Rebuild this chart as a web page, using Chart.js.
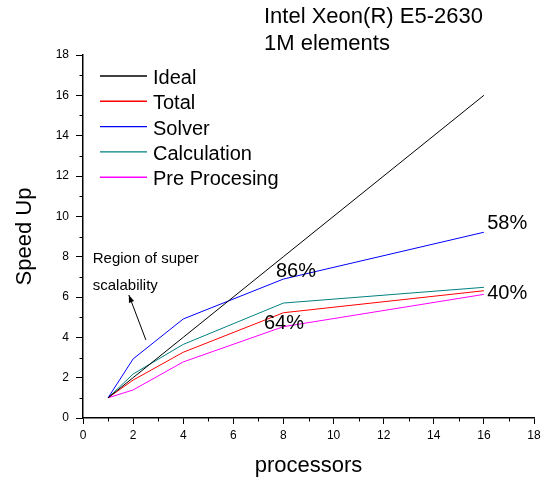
<!DOCTYPE html>
<html>
<head>
<meta charset="utf-8">
<script src="https://cdn.jsdelivr.net/npm/chart.js@4.4.1/dist/chart.umd.min.js"></script>
<style>
  html, body { margin: 0; padding: 0; background: #fff; }
  #wrap { width: 542px; height: 481px; }
</style>
</head>
<body>
<div id="wrap"><canvas id="speedChart"></canvas></div>
<script>
// Dados
const procs = [1, 2, 4, 8, 16];
const ideal = [1, 2, 4, 8, 16];
const total = [1, 1.88, 3.26, 5.22, 6.31];
const solver = [1, 2.93, 4.91, 6.89, 9.21];
const calculation = [1, 2.18, 3.65, 5.70, 6.48];
const preProcessing = [1, 1.39, 2.78, 4.53, 6.13];
const xTicks = [0, 2, 4, 6, 8, 10, 12, 14, 16, 18];
const yTicks = [0, 2, 4, 6, 8, 10, 12, 14, 16, 18];

// Percentuais anotados no gráfico (texto, x, y)
const notes = [
    ['86%', 7.70, 6.98],
    ['58%', 16.13, 9.36],
    ['40%', 16.13, 5.90],
    ['64%', 7.22, 4.41]
];

const FONT = "'Liberation Sans', Arial, sans-serif";

function toPoints(ys) {
    return procs.map((p, i) => ({ x: p, y: ys[i] }));
}

function serie(label, ys, color) {
    return {
        label: label,
        data: toPoints(ys),
        borderColor: color,
        backgroundColor: color,
        borderWidth: 1,
        pointRadius: 0,
        tension: 0,
        fill: false
    };
}

const data = {
    datasets: [
        serie('Ideal', ideal, '#000000'),
        serie('Total', total, '#ff0000'),
        serie('Solver', solver, '#0000ff'),
        serie('Calculation', calculation, '#008080'),
        serie('Pre Procesing', preProcessing, '#ff00ff')
    ]
};

// Título, legenda, anotações e ticks menores
const extras = {
    id: 'extras',
    afterDraw(chart) {
        const ctx = chart.ctx;
        const xs = chart.scales.x, ys = chart.scales.y;
        const area = chart.chartArea;
        ctx.save();

        // minor ticks
        ctx.strokeStyle = '#000';
        ctx.lineWidth = 1;
        for (let v = 1; v < 18; v += 2) {
            const px = Math.round(xs.getPixelForValue(v)) + 0.5;
            ctx.beginPath();
            ctx.moveTo(px, area.bottom);
            ctx.lineTo(px, area.bottom + 3.5);
            ctx.stroke();
            const py = Math.round(ys.getPixelForValue(v)) + 0.5;
            ctx.beginPath();
            ctx.moveTo(area.left, py);
            ctx.lineTo(area.left - 3.5, py);
            ctx.stroke();
        }

        // título
        ctx.fillStyle = '#000';
        ctx.font = '22px ' + FONT;
        ctx.textAlign = 'left';
        ctx.textBaseline = 'alphabetic';
        ctx.fillText('Intel Xeon(R) E5-2630', 264, 23);
        ctx.fillText('1M elements', 264, 50);

        // legenda
        ctx.font = '20px ' + FONT;
        chart.data.datasets.forEach((ds, i) => {
            const y = 76 + i * 25.3;
            ctx.strokeStyle = ds.borderColor;
            ctx.lineWidth = 1.4;
            ctx.beginPath();
            ctx.moveTo(100, y);
            ctx.lineTo(147, y);
            ctx.stroke();
            ctx.fillStyle = '#000';
            ctx.fillText(ds.label, 153, y + 8);
        });

        // percentuais
        notes.forEach(n => {
            ctx.fillText(n[0], xs.getPixelForValue(n[1]), ys.getPixelForValue(n[2]));
        });

        // região de super escalabilidade
        ctx.font = '15px ' + FONT;
        ctx.fillText('Region of super', xs.getPixelForValue(0.39), ys.getPixelForValue(7.68));
        ctx.fillText('scalability', xs.getPixelForValue(0.39), ys.getPixelForValue(6.35));

        // seta
        const x0 = xs.getPixelForValue(2.51), y0 = ys.getPixelForValue(3.87);
        const x1 = xs.getPixelForValue(1.83), y1 = ys.getPixelForValue(6.1);
        ctx.strokeStyle = '#000';
        ctx.lineWidth = 1;
        ctx.beginPath();
        ctx.moveTo(x0, y0);
        ctx.lineTo(x1, y1);
        ctx.stroke();
        const ang = Math.atan2(y1 - y0, x1 - x0);
        ctx.beginPath();
        ctx.moveTo(x1, y1);
        ctx.lineTo(x1 - 8 * Math.cos(ang - 0.35), y1 - 8 * Math.sin(ang - 0.35));
        ctx.lineTo(x1 - 8 * Math.cos(ang + 0.35), y1 - 8 * Math.sin(ang + 0.35));
        ctx.closePath();
        ctx.fillStyle = '#000';
        ctx.fill();

        ctx.restore();
    }
};

const config = {
    type: 'line',
    data: data,
    options: {
        responsive: true,
        maintainAspectRatio: false,
        animation: false,
        layout: {
            padding: { top: 55, right: 8, left: 0, bottom: 0 }
        },
        plugins: {
            legend: { display: false },
            title: { display: false },
            tooltip: { enabled: false }
        },
        scales: {
            x: {
                type: 'linear',
                min: 0,
                max: 18,
                afterFit: s => { s.height = 63; s.paddingRight = 0; },
                afterBuildTicks: s => { s.ticks = xTicks.map(v => ({ value: v })); },
                grid: { drawOnChartArea: false, color: '#000', tickLength: 6, lineWidth: 1 },
                border: { color: '#000', width: 1.5 },
                ticks: { color: '#000', font: { family: FONT, size: 12 }, padding: 4, maxRotation: 0 },
                title: {
                    display: true,
                    text: 'processors',
                    color: '#000',
                    font: { family: FONT, size: 22 },
                    padding: { top: 0, bottom: 2 }
                }
            },
            y: {
                type: 'linear',
                min: 0,
                max: 18,
                afterFit: s => { s.width = 83; },
                afterBuildTicks: s => { s.ticks = yTicks.map(v => ({ value: v })); },
                grid: { drawOnChartArea: false, color: '#000', tickLength: 7, lineWidth: 1 },
                border: { color: '#000', width: 1.5 },
                ticks: { color: '#000', font: { family: FONT, size: 12 }, padding: 7 },
                title: {
                    display: true,
                    text: 'Speed Up',
                    color: '#000',
                    font: { family: FONT, size: 22 },
                    padding: { top: 12, bottom: 0 }
                }
            }
        }
    },
    plugins: [extras]
};

const ctx = document.getElementById('speedChart').getContext('2d');
new Chart(ctx, config);
</script>
</body>
</html>
